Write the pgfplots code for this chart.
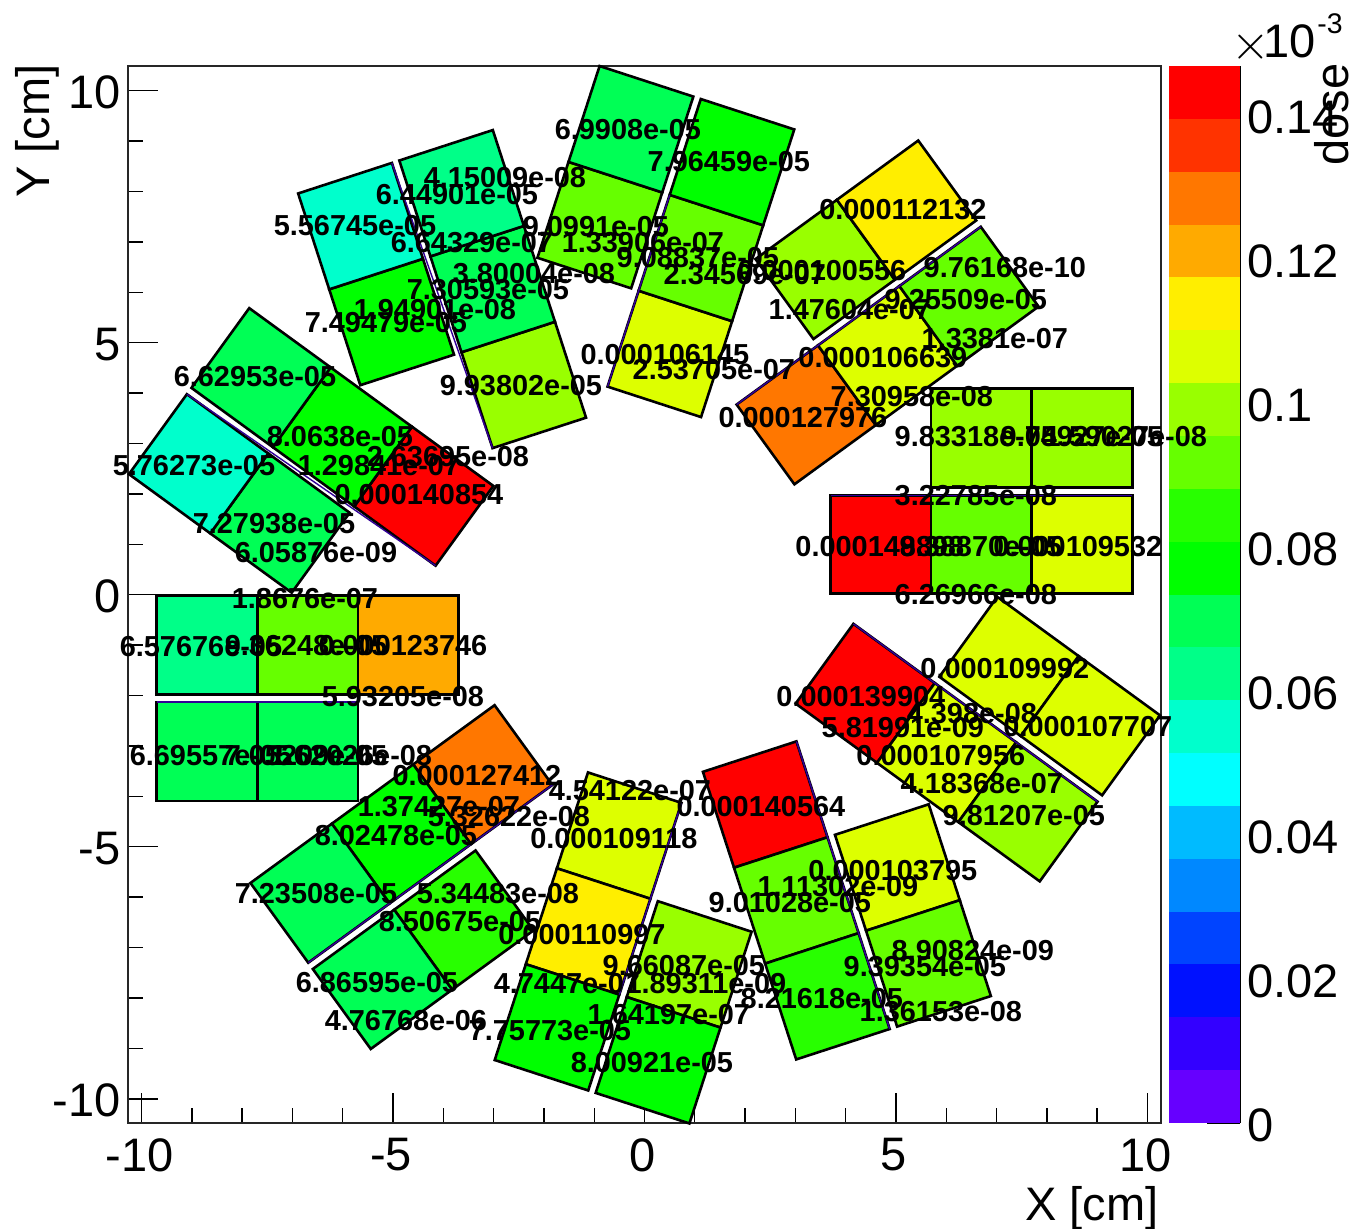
\documentclass[border=0pt]{standalone}
\usepackage{fontspec}
\setmainfont{Liberation Sans}
\usepackage{pgfplots}
\pgfplotsset{compat=1.18}
\definecolor{c1}{RGB}{102,0,255}
\definecolor{c2}{RGB}{51,0,255}
\definecolor{c3}{RGB}{0,17,255}
\definecolor{c4}{RGB}{0,68,255}
\definecolor{c5}{RGB}{0,136,255}
\definecolor{c6}{RGB}{0,187,255}
\definecolor{c7}{RGB}{0,255,255}
\definecolor{c8}{RGB}{0,255,204}
\definecolor{c9}{RGB}{0,255,136}
\definecolor{c10}{RGB}{0,255,85}
\definecolor{c11}{RGB}{0,255,0}
\definecolor{c12}{RGB}{40,255,0}
\definecolor{c13}{RGB}{102,255,0}
\definecolor{c14}{RGB}{153,255,0}
\definecolor{c15}{RGB}{221,255,0}
\definecolor{c16}{RGB}{255,238,0}
\definecolor{c17}{RGB}{255,170,0}
\definecolor{c18}{RGB}{255,119,0}
\definecolor{c19}{RGB}{255,51,0}
\definecolor{c20}{RGB}{255,0,0}
\definecolor{purp}{RGB}{50,0,150}
\newcommand\cell[2]{\addplot[fill=#1,draw=black,line width=1.3pt,line join=miter,mark=none,forget plot] coordinates {#2} -- cycle;}
\newcommand\edge[1]{\addplot[purp,line width=0.7pt,mark=none,forget plot] coordinates {#1};}
\newcommand\band[3]{\addplot[fill=#1,draw=none,mark=none,forget plot] coordinates {(0,#2)(1,#2)(1,#3)(0,#3)} -- cycle;}
\newcommand\lab[3]{\node[inner sep=0pt,font=\fontsize{14.45}{16}\selectfont\bfseries] at (axis cs:{(#1-644.6)/50.3},{(594.7-#2)/50.4}) {#3};}
\begin{document}
\begin{tikzpicture}[x=1pt,y=1pt]
\path[use as bounding box] (0,0) rectangle (677,614);
% colour bar
\begin{axis}[at={(584.5pt,52.5pt)},anchor=south west,scale only axis,width=35.5pt,height=528.5pt,
  xmin=0,xmax=1,ymin=0,ymax=0.1469,
  axis y line=right,axis x line=none,axis line style={-,line width=0.7pt},
  ytick={0,0.02,0.04,0.06,0.08,0.1,0.12,0.14},
  yticklabels={0,0.02,0.04,0.06,0.08,0.1,0.12,0.14},
  tick align=inside,major tick length=16.5pt,tick style={black,line width=0.7pt},
  every y tick label/.append style={font=\fontsize{23.5}{26}\selectfont,inner sep=0pt,xshift=3.5pt,yshift=-1pt},
  clip=false]
\band{c1}{0}{0.007345}\band{c2}{0.007345}{0.01469}\band{c3}{0.01469}{0.022035}\band{c4}{0.022035}{0.02938}
\band{c5}{0.02938}{0.036725}\band{c6}{0.036725}{0.04407}\band{c7}{0.04407}{0.051415}\band{c8}{0.051415}{0.05876}
\band{c9}{0.05876}{0.066105}\band{c10}{0.066105}{0.07345}\band{c11}{0.07345}{0.080795}\band{c12}{0.080795}{0.08814}
\band{c13}{0.08814}{0.095485}\band{c14}{0.095485}{0.10283}\band{c15}{0.10283}{0.110175}\band{c16}{0.110175}{0.11752}
\band{c17}{0.11752}{0.124865}\band{c18}{0.124865}{0.13221}\band{c19}{0.13221}{0.139555}\band{c20}{0.139555}{0.1469}
\end{axis}
% main frame
\begin{axis}[at={(64pt,52.5pt)},anchor=south west,scale only axis,width=516.5pt,height=528.5pt,
  xmin=-10.27,xmax=10.27,ymin=-10.48,ymax=10.49,
  xtick={-10,-5,0,5,10},ytick={-10,-5,0,5,10},
  xticklabels={-10,-5,0,5,10},yticklabels={-10,-5,0,5,10},
  minor x tick num=4,minor y tick num=4,
  xtick pos=lower,ytick pos=lower,tick align=inside,
  major tick length=15pt,minor tick length=7.5pt,
  tick style={black,line width=0.7pt},
  axis line style={line width=0.7pt,black!85},
  every x tick label/.append style={font=\fontsize{23.5}{26}\selectfont,inner sep=0pt,yshift=-7.5pt,xshift=-1pt},
  every y tick label/.append style={font=\fontsize{23.5}{26}\selectfont,inner sep=0pt,xshift=-3.5pt,yshift=-1pt},
  clip=false]
% section 0 deg
\cell{c20}{(3.7,0.02)(5.7,0.02)(5.7,1.975)(3.7,1.975)}
\cell{c13}{(5.7,0.02)(7.7,0.02)(7.7,1.975)(5.7,1.975)}
\cell{c15}{(7.7,0.02)(9.7,0.02)(9.7,1.975)(7.7,1.975)}
\cell{c14}{(5.7,2.13)(7.7,2.13)(7.7,4.09)(5.7,4.09)}
\cell{c14}{(7.7,2.13)(9.7,2.13)(9.7,4.09)(7.7,4.09)}
\edge{(3.7,1.975)(9.7,1.975)}
% section 36 deg
\cell{c18}{(2.981,2.191)(4.599,3.366)(3.450,4.948)(1.832,3.773)}
\cell{c15}{(4.599,3.366)(6.217,4.542)(5.068,6.124)(3.450,4.948)}
\cell{c13}{(6.217,4.542)(7.835,5.718)(6.686,7.300)(5.068,6.124)}
\cell{c14}{(3.359,5.073)(4.977,6.249)(3.825,7.835)(2.207,6.659)}
\cell{c16}{(4.977,6.249)(6.595,7.425)(5.443,9.011)(3.825,7.835)}
\edge{(1.832,3.773)(6.686,7.300)}
% section 72 deg
\cell{c15}{(1.124,3.525)(1.742,5.427)(-0.117,6.031)(-0.735,4.129)}
\cell{c13}{(1.742,5.427)(2.360,7.329)(0.501,7.933)(-0.117,6.031)}
\cell{c11}{(2.360,7.329)(2.978,9.231)(1.119,9.835)(0.501,7.933)}
\cell{c13}{(-0.265,6.079)(0.353,7.981)(-1.511,8.587)(-2.129,6.685)}
\cell{c10}{(0.353,7.981)(0.971,9.883)(-0.893,10.489)(-1.511,8.587)}
\edge{(-0.735,4.129)(0.501,7.933)}
% section 108 deg
\cell{c14}{(-1.162,3.513)(-1.780,5.415)(-3.639,4.811)(-3.021,2.909)}
\cell{c10}{(-1.780,5.415)(-2.398,7.317)(-4.257,6.713)(-3.639,4.811)}
\cell{c9}{(-2.398,7.317)(-3.016,9.219)(-4.875,8.615)(-4.257,6.713)}
\cell{c11}{(-3.787,4.763)(-4.405,6.665)(-6.269,6.059)(-5.651,4.157)}
\cell{c8}{(-4.405,6.665)(-5.023,8.567)(-6.887,7.961)(-6.269,6.059)}
\edge{(-3.021,2.909)(-5.023,8.567)}
% section 144 deg
\cell{c20}{(-3.005,2.159)(-4.623,3.334)(-5.772,1.752)(-4.154,0.577)}
\cell{c11}{(-4.623,3.334)(-6.241,4.510)(-7.390,2.928)(-5.772,1.752)}
\cell{c10}{(-6.241,4.510)(-7.859,5.686)(-9.008,4.104)(-7.390,2.928)}
\cell{c10}{(-5.863,1.627)(-7.481,2.803)(-8.633,1.217)(-7.015,0.041)}
\cell{c8}{(-7.481,2.803)(-9.099,3.979)(-10.251,2.393)(-8.633,1.217)}
\edge{(-4.154,0.577)(-9.099,3.979)}
% section 180 deg
\cell{c17}{(-3.7,-0.02)(-5.7,-0.02)(-5.7,-1.975)(-3.7,-1.975)}
\cell{c13}{(-5.7,-0.02)(-7.7,-0.02)(-7.7,-1.975)(-5.7,-1.975)}
\cell{c9}{(-7.7,-0.02)(-9.7,-0.02)(-9.7,-1.975)(-7.7,-1.975)}
\cell{c10}{(-5.7,-2.13)(-7.7,-2.13)(-7.7,-4.09)(-5.7,-4.09)}
\cell{c10}{(-7.7,-2.13)(-9.7,-2.13)(-9.7,-4.09)(-7.7,-4.09)}
\edge{(-5.7,-2.13)(-9.7,-2.13)}
% section 216 deg
\cell{c18}{(-2.981,-2.191)(-4.599,-3.366)(-3.450,-4.948)(-1.832,-3.773)}
\cell{c11}{(-4.599,-3.366)(-6.217,-4.542)(-5.068,-6.124)(-3.450,-4.948)}
\cell{c10}{(-6.217,-4.542)(-7.835,-5.718)(-6.686,-7.300)(-5.068,-6.124)}
\cell{c12}{(-3.359,-5.073)(-4.977,-6.249)(-3.825,-7.835)(-2.207,-6.659)}
\cell{c10}{(-4.977,-6.249)(-6.595,-7.425)(-5.443,-9.011)(-3.825,-7.835)}
\edge{(-1.832,-3.773)(-6.686,-7.300)}
% section 252 deg
\cell{c15}{(-1.124,-3.525)(-1.742,-5.427)(0.117,-6.031)(0.735,-4.129)}
\cell{c16}{(-1.742,-5.427)(-2.360,-7.329)(-0.501,-7.933)(0.117,-6.031)}
\cell{c11}{(-2.360,-7.329)(-2.978,-9.231)(-1.119,-9.835)(-0.501,-7.933)}
\cell{c14}{(0.265,-6.079)(-0.353,-7.981)(1.511,-8.587)(2.129,-6.685)}
\cell{c11}{(-0.353,-7.981)(-0.971,-9.883)(0.893,-10.489)(1.511,-8.587)}
\edge{(0.735,-4.129)(-0.501,-7.933)}
% section 288 deg
\cell{c20}{(1.162,-3.513)(1.780,-5.415)(3.639,-4.811)(3.021,-2.909)}
\cell{c13}{(1.780,-5.415)(2.398,-7.317)(4.257,-6.713)(3.639,-4.811)}
\cell{c12}{(2.398,-7.317)(3.016,-9.219)(4.875,-8.615)(4.257,-6.713)}
\cell{c15}{(3.787,-4.763)(4.405,-6.665)(6.269,-6.059)(5.651,-4.157)}
\cell{c13}{(4.405,-6.665)(5.023,-8.567)(6.887,-7.961)(6.269,-6.059)}
\edge{(3.021,-2.909)(4.875,-8.615)}
% section 324 deg
\cell{c20}{(3.005,-2.159)(4.623,-3.334)(5.772,-1.752)(4.154,-0.577)}
\cell{c15}{(4.623,-3.334)(6.241,-4.510)(7.390,-2.928)(5.772,-1.752)}
\cell{c14}{(6.241,-4.510)(7.859,-5.686)(9.008,-4.104)(7.390,-2.928)}
\cell{c15}{(5.863,-1.627)(7.481,-2.803)(8.633,-1.217)(7.015,-0.041)}
\cell{c15}{(7.481,-2.803)(9.099,-3.979)(10.251,-2.393)(8.633,-1.217)}
\edge{(4.154,-0.577)(9.008,-4.104)}
% labels
\lab{880}{547}{0.000148898}\lab{981}{547}{9.38870e-05}\lab{1078}{547}{0.000109532}
\lab{976}{437}{9.83318e-05}\lab{1082}{437}{9.74927e-05}\lab{1126}{437}{1.59027e-08}
\lab{976}{496}{3.22785e-08}\lab{976}{594}{6.26966e-08}
\lab{803}{418}{0.000127976}\lab{883}{358}{0.000106639}\lab{966}{300}{9.25509e-05}\lab{903}{210}{0.000112132}\lab{822}{271}{0.000100556}
\lab{1005}{268}{9.76168e-10}\lab{850}{310}{1.47604e-07}\lab{995}{339}{1.3381e-07}\lab{912}{397}{7.30958e-08}
\lab{665}{355}{0.000106145}\lab{714}{370}{2.53705e-07}\lab{698}{258}{9.08837e-05}\lab{745}{275}{2.34569e-07}\lab{729}{162}{7.96459e-05}
\lab{596}{227}{9.0991e-05}\lab{628}{130}{6.9908e-05}\lab{643}{243}{1.33906e-07}\lab{534}{274}{3.80004e-08}
\lab{521}{386}{9.93802e-05}\lab{488}{290}{7.30593e-05}\lab{457}{195}{6.44901e-05}\lab{386}{323}{7.49479e-05}\lab{355}{226}{5.56745e-05}
\lab{505}{178}{4.15009e-08}\lab{472}{243}{6.64329e-07}\lab{435}{310}{1.94901e-08}
\lab{419}{495}{0.000140854}\lab{340}{437}{8.0638e-05}\lab{255}{377}{6.62953e-05}\lab{274}{524}{7.27938e-05}\lab{194}{466}{5.76273e-05}
\lab{379}{466}{1.29841e-07}\lab{448}{457}{2.63695e-08}\lab{316}{553}{6.05876e-09}\lab{305}{598}{1.8676e-07}
\lab{201}{646}{6.57676e-05}\lab{306}{646}{9.36248e-05}\lab{403}{646}{0.000123746}\lab{211}{755}{6.69557e-05}\lab{306}{755}{7.05209e-05}\lab{351}{755}{1.62026e-08}\lab{403}{697}{5.93205e-08}
\lab{477}{775}{0.000127412}\lab{396}{835}{8.02478e-05}\lab{316}{893}{7.23508e-05}\lab{460}{921}{8.50675e-05}\lab{377}{982}{6.86595e-05}
\lab{439}{806}{1.37427e-07}\lab{509}{816}{5.32622e-08}\lab{498}{893}{5.34483e-08}\lab{406}{1020}{4.76768e-06}
\lab{614}{838}{0.000109118}\lab{582}{934}{0.000110997}\lab{550}{1030}{7.75773e-05}\lab{684}{965}{9.66087e-05}\lab{652}{1062}{8.00921e-05}
\lab{630}{790}{4.54122e-07}\lab{567}{983}{4.7447e-07}\lab{706}{983}{1.89311e-09}\lab{669}{1014}{1.64197e-07}
\lab{761}{806}{0.000140564}\lab{790}{902}{9.01028e-05}\lab{822}{998}{8.21618e-05}\lab{893}{870}{0.000103795}\lab{925}{966}{9.39354e-05}
\lab{838}{886}{1.11302e-09}\lab{973}{950}{8.90824e-09}\lab{941}{1011}{1.36153e-08}
\lab{861}{697}{0.000139904}\lab{941}{755}{0.000107956}\lab{1024}{815}{9.81207e-05}\lab{1005}{668}{0.000109992}\lab{1088}{726}{0.000107707}
\lab{903}{727}{5.81991e-09}\lab{982}{783}{4.18368e-07}\lab{972}{714}{4.398e-08}
\end{axis}
% titles
\node[anchor=base east,inner sep=0pt,font=\fontsize{23.5}{26}\selectfont] at (579.5,4) {X [cm]};
\node[anchor=base east,inner sep=0pt,rotate=90,font=\fontsize{23.5}{26}\selectfont] at (24.5,582) {Y [cm]};
\node[anchor=base east,inner sep=0pt,rotate=90,font=\fontsize{23.5}{26}\selectfont] at (674,582.5) {dose};
\node[inner sep=0pt,font=\fontsize{23}{26}\selectfont] at (625.3,590.5) {$\times$};
\node[anchor=base west,inner sep=0pt,font=\fontsize{23.5}{26}\selectfont] at (631.5,585) {10};
\node[anchor=base west,inner sep=0pt,font=\fontsize{14.2}{16}\selectfont] at (658.5,597) {-3};
\end{tikzpicture}
\end{document}
